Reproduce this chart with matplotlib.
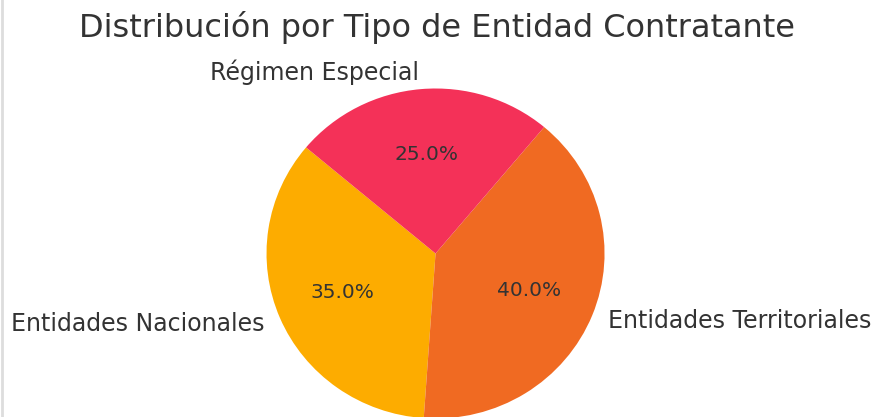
import matplotlib
matplotlib.use('Agg')
import matplotlib.pyplot as plt

labels = ['Entidades Nacionales', 'Entidades Territoriales', 'Régimen Especial']
shares = [35, 40, 25]
colors = ['#FDAC00', '#F06A22', '#F43158']

text_color = '#333333'

fig = plt.figure(figsize=(8.75, 4.17), dpi=100)
ax = fig.add_axes([0.2563, -0.1025, 0.4829, 0.9892])

wedges, texts, autotexts = ax.pie(shares, labels=labels, colors=colors, autopct='%1.1f%%',
                                  startangle=140, textprops={'fontsize': 17, 'color': text_color})
for t in autotexts:
    t.set_fontsize(14.5)
ax.set_xlim(-1.25, 1.25)
ax.set_ylim(-1.25, 1.25)
# the screenshot is a touch squashed vertically
ax.set_aspect('auto')

fig.text(0.499, 1 - 27 / 417, 'Distribución por Tipo de Entidad Contratante',
         ha='center', va='center', fontsize=23, color=text_color)

# faint frame line on the left, as in the screenshot
fig.add_artist(plt.Line2D([0.002, 0.002], [0, 1], color='#dddddd', lw=2, transform=fig.transFigure))

fig.savefig('out.png', dpi=100)
